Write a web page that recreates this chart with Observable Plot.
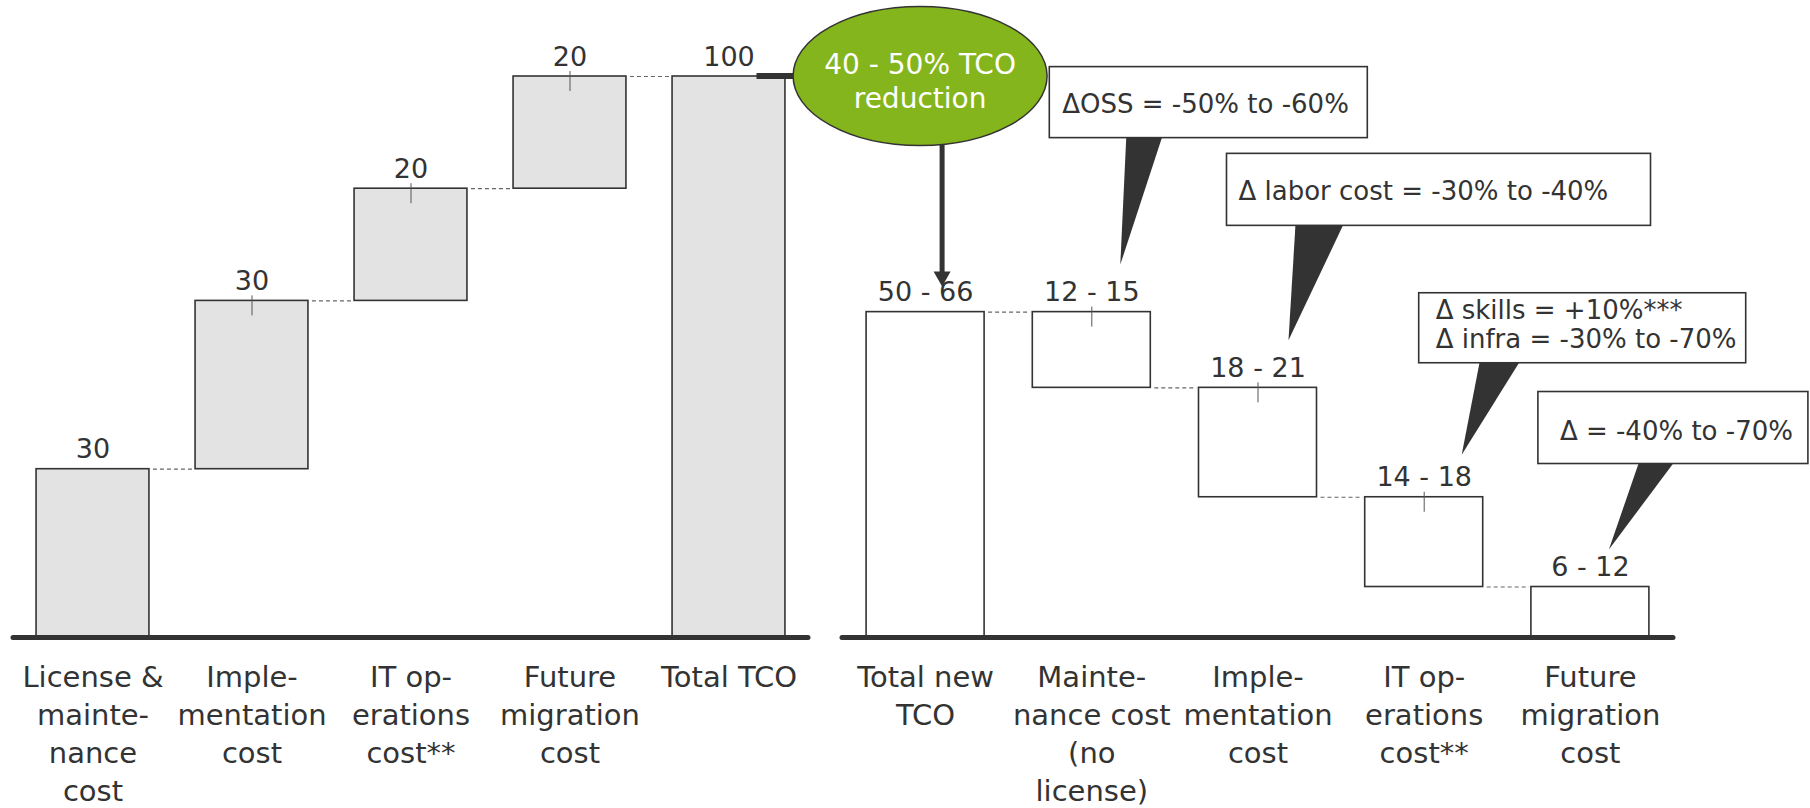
<!DOCTYPE html>
<html>
<head>
<meta charset="utf-8">
<script src="https://cdn.jsdelivr.net/npm/d3@7"></script>
<script src="https://cdn.jsdelivr.net/npm/@observablehq/plot@0.6"></script>
<style>
  body { margin: 0; background: #fff; }
  #wrap { position: relative; width: 1810px; height: 808px; overflow: hidden; font-family: "DejaVu Sans", sans-serif; }
  #left, #right { position: absolute; top: 0; }
  #left { left: 0; }
  #right { left: 780px; }
  svg { overflow: visible; }
</style>
</head>
<body>
<div id="wrap"><div id="left"></div><div id="right"></div></div>
<script>
// ---------- data ----------
const leftCategories = ["License &\nmainte-\nnance\ncost", "Imple-\nmentation\ncost", "IT op-\nerations\ncost**", "Future\nmigration\ncost", "Total TCO"];
const leftValues = [30, 30, 20, 20, 100];

const rightCategories = ["Total new\nTCO", "Mainte-\nnance cost\n(no\nlicense)", "Imple-\nmentation\ncost", "IT op-\nerations\ncost**", "Future\nmigration\ncost"];
const rightLow = [50, 12, 18, 14, 6];
const rightHigh = [66, 15, 21, 18, 12];

const reductionLabel = ["40 - 50% TCO", "reduction"];
const calloutCategory = [1, 2, 3, 4];
const calloutTexts = [
  ["ΔOSS = -50% to -60%"],
  ["Δ labor cost = -30% to -40%"],
  ["Δ skills = +10%***", "Δ infra = -30% to -70%"],
  ["Δ = -40% to -70%"]
];

// ---------- tables ----------
let run = 0;
const leftData = leftCategories.map((cat, i) => {
  const isTotal = i === leftCategories.length - 1;
  let y1, y2;
  if (isTotal) { y1 = 0; y2 = leftValues[i]; }
  else { y1 = run; y2 = run + leftValues[i]; run = y2; }
  return {i, cat, y1, y2, label: String(leftValues[i]), floating: !isTotal && i > 0};
});
const HW = 0.355;
const leftConn = leftData.slice(0, -1).map((d) => ({x1: d.i + HW, x2: d.i + 1 - HW, y: d.y2}));

const mids = rightLow.map((l, i) => (l + rightHigh[i]) / 2);
let rrun = mids[0];
const rightData = rightCategories.map((cat, i) => {
  const label = `${rightLow[i]} - ${rightHigh[i]}`;
  if (i === 0) return {i, cat, y1: 0, y2: mids[0], label, floating: false};
  const d = {i, cat, y1: rrun - mids[i], y2: rrun, label, floating: i < rightCategories.length - 1};
  rrun -= mids[i];
  return d;
});
const rightConn = rightData.slice(0, -1).map((d, k) => ({x1: d.i + HW, x2: d.i + 1 - HW, y: rightData[k + 1].y2}));

// ---------- panels ----------
function panel(data, conns, {width, marginLeft, marginRight, fill}) {
  return Plot.plot({
    width, height: 808, marginTop: 76, marginBottom: 171, marginLeft, marginRight,
    x: {domain: [-0.5, 4.5], axis: null},
    y: {domain: [0, 100], axis: null},
    style: {fontFamily: "'DejaVu Sans', sans-serif", background: "transparent", overflow: "visible", color: "#333"},
    marks: [
      Plot.ruleY(conns, {y: "y", x1: "x1", x2: "x2", insetLeft: 4, insetRight: 2, stroke: "#666", strokeWidth: 1.2, strokeDasharray: "4,3"}),
      Plot.rect(data, {x1: d => d.i - HW, x2: d => d.i + HW, y1: "y1", y2: "y2", fill, stroke: "#333", strokeWidth: 1.6}),
      Plot.ruleX(data.filter(d => d.floating), {x: "i", y1: "y2", y2: "y2", insetTop: -5, insetBottom: -15, stroke: "#555", strokeWidth: 1}),
      Plot.ruleY([0], {stroke: "#333", strokeWidth: 5, strokeLinecap: "round"}),
      Plot.text(data, {x: "i", y: "y2", text: "label", lineAnchor: "bottom", dy: -11, fontSize: 27, fill: "#333"}),
      Plot.text(data, {x: "i", y: () => 0, text: "cat", lineAnchor: "top", dy: 23, fontSize: 29, lineHeight: 1.31, fill: "#333"})
    ]
  });
}

const L = panel(leftData, leftConn, {width: 820, marginLeft: 13, marginRight: 12, fill: "#e3e3e3"});
document.getElementById("left").append(L);
const R = panel(rightData, rightConn, {width: 1030, marginLeft: 62, marginRight: 137, fill: "#ffffff"});
document.getElementById("right").append(R);
for (const s of [L, R]) { s.style.background = "transparent"; s.style.overflow = "visible"; s.style.maxWidth = "none"; }

// ---------- annotations ----------
const Lx = L.scale("x"), Ly = L.scale("y");
const lastL = leftData[leftData.length - 1];
d3.select(L).append("line")
  .attr("x1", Lx.apply(lastL.i) + 28).attr("x2", Lx.apply(lastL.i) + 80)
  .attr("y1", Ly.apply(lastL.y2)).attr("y2", Ly.apply(lastL.y2))
  .attr("stroke", "#333").attr("stroke-width", 6);

const Rx = R.scale("x"), Ry = R.scale("y");
const g = d3.select(R).append("g").attr("font-family", "'DejaVu Sans', sans-serif");

// callouts
const calloutLayout = [
  {box: [-42, -245, 318, 71], wedge: [35, 71], tip: [29, -47], pad: 13, base: [46]},
  {box: [-31, -234, 424, 72], wedge: [38, 86], tip: [31, -47], pad: 12, base: [47]},
  {box: [-5, -204, 327, 70], wedge: [56, 96], tip: [38, -42], pad: 17, base: [26, 55]},
  {box: [-52, -195, 270, 72], wedge: [49, 84], tip: [19, -37], pad: 22, base: [48]}
];
calloutCategory.forEach((ci, k) => {
  const Lo = calloutLayout[k];
  const ax = Rx.apply(ci), ay = Ry.apply(rightData[ci].y2);
  const bx = ax + Lo.box[0], by = ay + Lo.box[1], bw = Lo.box[2], bh = Lo.box[3];
  g.append("path")
    .attr("d", `M${ax + Lo.wedge[0]},${by + bh - 1}L${ax + Lo.wedge[1]},${by + bh - 1}L${ax + Lo.tip[0]},${ay + Lo.tip[1]}Z`)
    .attr("fill", "#333");
  g.append("rect").attr("x", bx).attr("y", by).attr("width", bw).attr("height", bh)
    .attr("fill", "#fff").attr("stroke", "#333").attr("stroke-width", 1.6);
  const t = g.append("text").attr("font-size", 26).attr("fill", "#333").attr("text-anchor", "start");
  calloutTexts[k].forEach((line, j) => t.append("tspan").attr("x", bx + Lo.pad).attr("y", by + Lo.base[j]).text(line));
});

// green ellipse + arrow
const ex = Rx.apply(0) - 5, ey = Ry.apply(100);
const ax = Rx.apply(0) + 17, tipY = Ry.apply(rightData[0].y2) - 25;
g.append("line").attr("x1", ax).attr("x2", ax).attr("y1", ey + 60).attr("y2", tipY - 12)
  .attr("stroke", "#333").attr("stroke-width", 5);
g.append("path").attr("d", `M${ax - 8.5},${tipY - 15}L${ax + 8.5},${tipY - 15}L${ax},${tipY}Z`).attr("fill", "#333");
g.append("ellipse").attr("cx", ex).attr("cy", ey).attr("rx", 127).attr("ry", 69.5)
  .attr("fill", "#84b51c").attr("stroke", "#333").attr("stroke-width", 1.5);
const et = g.append("text").attr("font-size", 28).attr("fill", "#fff").attr("text-anchor", "middle");
reductionLabel.forEach((line, j) => et.append("tspan").attr("x", ex).attr("y", ey - 2.5 + j * 34).text(line));
</script>
</body>
</html>
